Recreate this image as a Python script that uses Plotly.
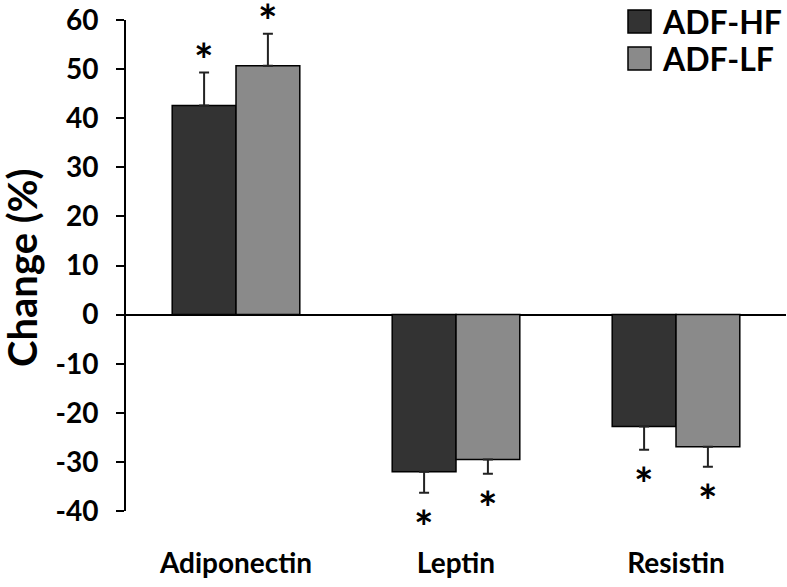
import plotly.graph_objects as go

categories = ["Adiponectin", "Leptin", "Resistin"]
series_names = ["ADF-HF", "ADF-LF"]
hf_values = [42.6, -32.0, -22.8]
hf_errors = [6.7, 4.3, 4.7]
lf_values = [50.7, -29.5, -26.9]
lf_errors = [6.5, 2.9, 4.1]
y_ticks = [-40, -30, -20, -10, 0, 10, 20, 30, 40, 50, 60]

colors = ["#333333", "#8a8a8a"]
FONT = "Lato"

W, H = 787, 587
L, T = 126, 20
R = 1
B = H - 511
PW, PH = W - L - R, H - T - B

def px2paper(px, py):
    return (px - L) / PW, (H - B - py) / PH

fig = go.Figure()
for name, vals, errs, col in [(series_names[0], hf_values, hf_errors, colors[0]),
                              (series_names[1], lf_values, lf_errors, colors[1])]:
    up = [e if v >= 0 else 0 for v, e in zip(vals, errs)]
    down = [e if v < 0 else 0 for v, e in zip(vals, errs)]
    fig.add_trace(go.Bar(
        x=categories, y=vals, name=name,
        marker=dict(color=col, line=dict(color="black", width=1.5)),
        error_y=dict(type="data", symmetric=False, array=up, arrayminus=down,
                     color="#222222", thickness=2, width=5),
        showlegend=False, cliponaxis=False,
    ))

# significance asterisks
for i, (vals, errs) in enumerate([(hf_values, hf_errors), (lf_values, lf_errors)]):
    for c, v, e in zip(categories, vals, errs):
        tip = v + e if v >= 0 else v - e
        fig.add_annotation(
            x=c, y=tip, xref="x", yref="y", text="<b>*</b>", showarrow=False,
            xshift=(-1 if i == 0 else 1) * 32,
            yanchor="bottom" if v >= 0 else "top",
            yshift=-16 if v >= 0 else -4,
            font=dict(family=FONT, size=46, color="black"),
        )

# manual legend
for k, (name, col) in enumerate(zip(series_names, colors)):
    top = 10 + k * 37
    x0, y1 = px2paper(628, top)
    x1, y0 = px2paper(651, top + 23)
    fig.add_shape(type="rect", xref="paper", yref="paper", x0=x0, x1=x1, y0=y0, y1=y1,
                  fillcolor=col, line=dict(color="black", width=1.5))
    tx, ty = px2paper(660, top + 11.5)
    fig.add_annotation(x=tx, y=ty, xref="paper", yref="paper", text="<b>%s</b>" % name,
                       showarrow=False, xanchor="left", yanchor="middle",
                       font=dict(family=FONT, size=32, color="black"))

# y-axis title
tx, ty = px2paper(22, 268)
fig.add_annotation(x=tx, y=ty, xref="paper", yref="paper", text="<b>Change (%)</b>",
                   showarrow=False, textangle=-90, xanchor="center", yanchor="middle",
                   font=dict(family=FONT, size=40, color="black"))

fig.update_layout(
    width=W, height=H,
    margin=dict(l=L, r=R, t=T, b=B, autoexpand=False),
    paper_bgcolor="white", plot_bgcolor="white",
    barmode="group", bargap=0.42, bargroupgap=0,
    font=dict(family=FONT, color="black"),
)
fig.update_xaxes(
    showline=False, ticks="", showgrid=False, zeroline=False, automargin=False,
    tickfont=dict(family=FONT, size=28, color="black"),
    tickprefix="<b>", ticksuffix="</b>",
    ticklabelstandoff=33, range=[-0.5, 2.5],
)
fig.update_yaxes(
    range=[-40, 60], tickvals=y_ticks, ticktext=["<b>%d</b>" % t for t in y_ticks],
    showline=True, linecolor="black", linewidth=2, automargin=False,
    ticks="outside", ticklen=8, tickwidth=2, tickcolor="black",
    showgrid=False, zeroline=True, zerolinecolor="black", zerolinewidth=1.5,
    tickfont=dict(family=FONT, size=28, color="black"),
    ticklabelstandoff=12, ticklabeloverflow="allow",
)

fig.write_html("out.html", config={"displayModeBar": False},
               post_script="document.body.style.margin='0';")
